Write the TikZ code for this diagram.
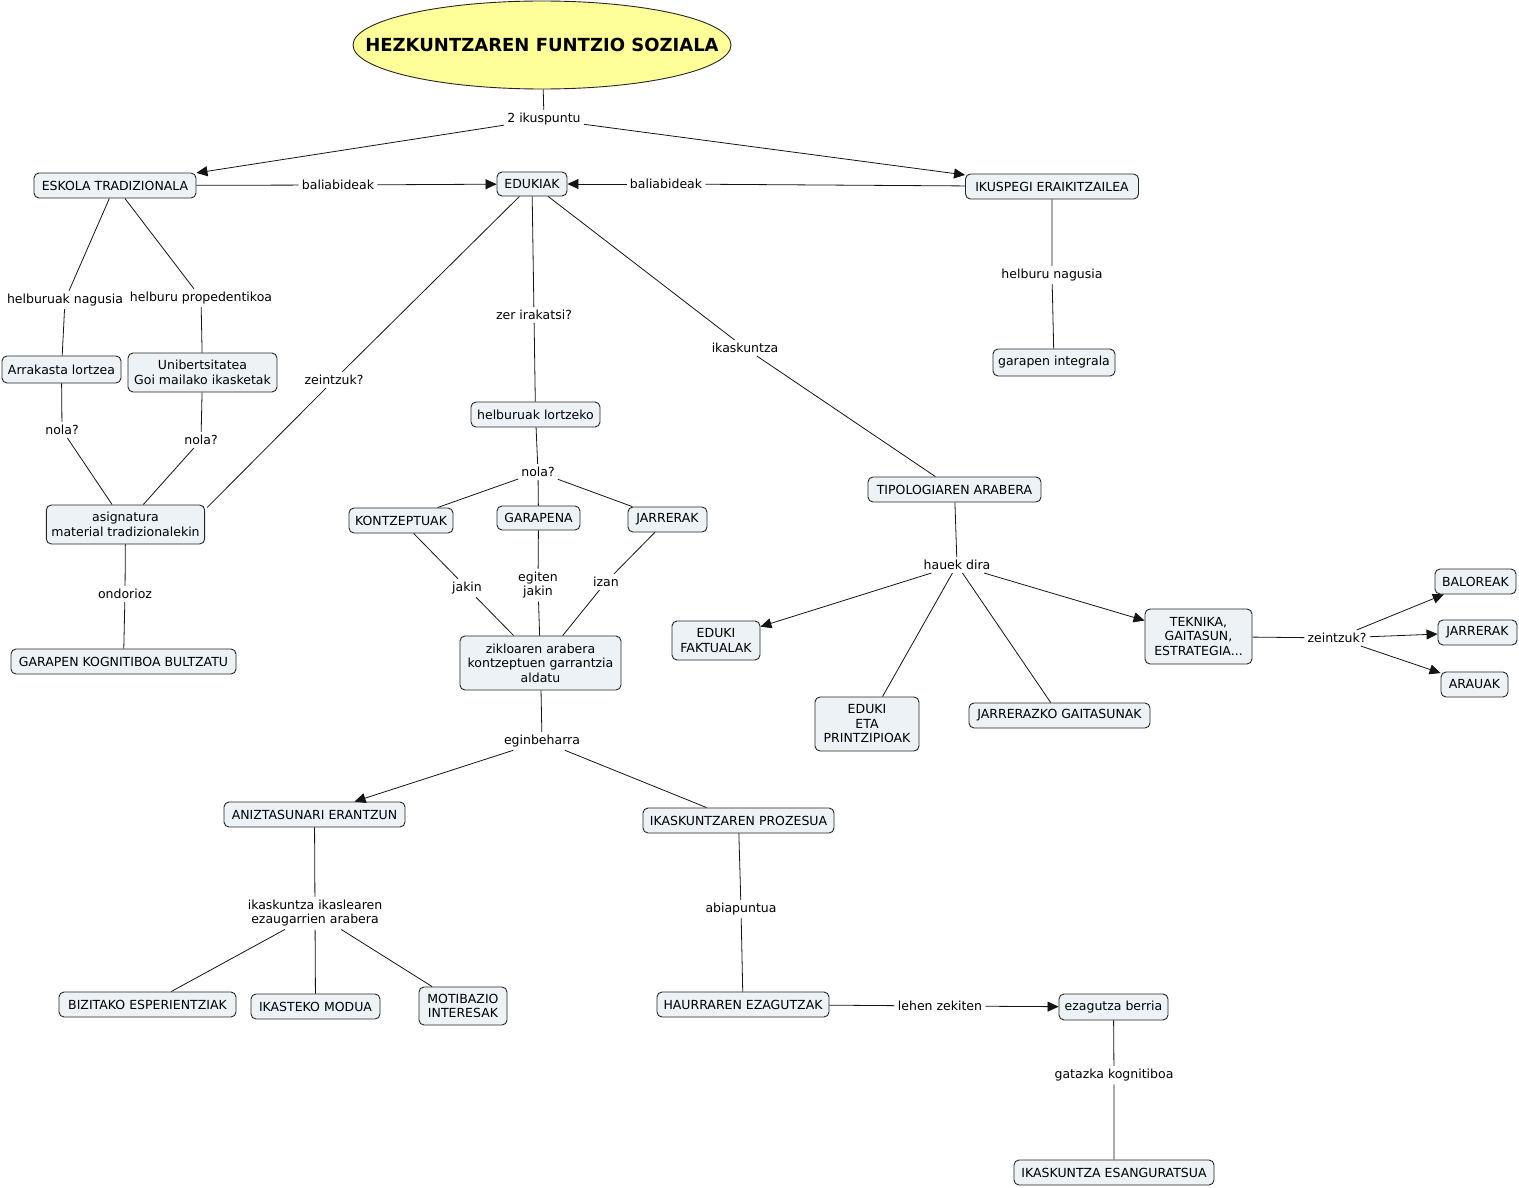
\documentclass[tikz,border=0pt]{standalone}
\usepackage{fontspec}
\setmainfont{DejaVu Sans}
\usepackage{tikz}
\usetikzlibrary{
  shapes.geometric,
  arrows.meta
}
\definecolor{conceptfill}{RGB}{236,242,245}
\definecolor{titlefill}{RGB}{255,255,153}
\definecolor{cmline}{RGB}{20,20,20}
\newcommand{\cmfont}{\fontsize{12.5}{14.5}\selectfont}
\tikzset{
  basebox/.style={rectangle,rounded corners=5pt,draw=black!85,fill=conceptfill,align=center,font=\cmfont,line width=0.9pt,inner xsep=5pt,inner ysep=3pt},
  conceptnode/.style={basebox,minimum height=25pt},
  titlenode/.style={ellipse,draw=black!85,fill=titlefill,line width=0.9pt,minimum width=378pt,minimum height=88pt,font=\fontsize{18}{22}\selectfont\bfseries},
  linknode/.style={rectangle,align=center,font=\cmfont,inner sep=3pt},
  conn/.style={draw=cmline,line width=0.8pt},
  arr/.style={conn,-{Triangle[length=11pt,width=10pt]}}
}

\begin{document}
\begin{tikzpicture}[x=1pt,y=-1pt]
  \useasboundingbox (0,0) rectangle (1519,1188);
  \node[titlenode] (title) at (542,45) {\makebox[0pt]{HEZKUNTZAREN FUNTZIO SOZIALA}};
  \node[conceptnode,minimum width=162pt] (esk) at (115,185.5) {ESKOLA TRADIZIONALA};
  \node[conceptnode,minimum width=70pt,minimum height=24pt] (edu) at (532,184) {EDUKIAK};
  \node[conceptnode,minimum width=173pt] (iku) at (1052,186.5) {IKUSPEGI ERAIKITZAILEA};
  \node[conceptnode,minimum width=122pt,minimum height=27pt] (garint) at (1054,362.5) {garapen integrala};
  \node[conceptnode,minimum width=119pt,minimum height=27pt] (arrak) at (61.5,369.5) {Arrakasta lortzea};
  \node[conceptnode,minimum width=149pt,minimum height=39pt] (unib) at (202.5,372.5) {Unibertsitatea\\Goi mailako ikasketak};
  \node[conceptnode,minimum width=157pt,minimum height=39pt] (asig) at (125.5,524.5) {asignatura\\material tradizionalekin};
  \node[conceptnode,minimum width=225pt] (garkog) at (123.5,661.5) {GARAPEN KOGNITIBOA BULTZATU};
  \node[conceptnode,minimum width=129pt] (helb) at (535.5,414.5) {helburuak lortzeko};
  \node[conceptnode,minimum width=104pt] (kontz) at (401,520.5) {KONTZEPTUAK};
  \node[conceptnode,minimum width=83pt,minimum height=24pt] (garap) at (538.5,518) {GARAPENA};
  \node[conceptnode,minimum width=79pt] (jarr) at (667.5,519.5) {JARRERAK};
  \node[conceptnode,minimum width=161pt,minimum height=54pt] (ziklo) at (540.5,663) {zikloaren arabera\\kontzeptuen garrantzia\\aldatu};
  \node[conceptnode,minimum width=181pt] (anizt) at (314.5,814.5) {ANIZTASUNARI ERANTZUN};
  \node[conceptnode,minimum width=191pt] (ikproz) at (738.5,820.5) {IKASKUNTZAREN PROZESUA};
  \node[conceptnode,minimum width=177pt] (bizi) at (147.5,1004.5) {BIZITAKO ESPERIENTZIAK};
  \node[conceptnode,minimum width=129pt] (ikmodu) at (315.5,1006.5) {IKASTEKO MODUA};
  \node[conceptnode,minimum width=88pt,minimum height=38pt] (motib) at (463,1006) {MOTIBAZIO\\INTERESAK};
  \node[conceptnode,minimum width=172pt] (haur) at (743,1004.5) {HAURRAREN EZAGUTZAK};
  \node[conceptnode,minimum width=109pt,minimum height=26pt] (ezber) at (1113.5,1007) {ezagutza berria};
  \node[conceptnode,minimum width=200pt] (ikesang) at (1114,1172.5) {IKASKUNTZA ESANGURATSUA};
  \node[conceptnode,minimum width=173pt] (tipo) at (954.5,489.5) {TIPOLOGIAREN ARABERA};
  \node[conceptnode,minimum width=88pt,minimum height=39pt] (efakt) at (716,640.5) {EDUKI\\FAKTUALAK};
  \node[conceptnode,minimum width=104pt,minimum height=54pt] (eeta) at (867,724) {EDUKI\\ETA\\PRINTZIPIOAK};
  \node[conceptnode,minimum width=181pt] (jgait) at (1059.5,715.5) {JARRERAZKO GAITASUNAK};
  \node[conceptnode,minimum width=107pt,minimum height=55pt] (tekn) at (1198.5,636.5) {TEKNIKA,\\GAITASUN,\\ESTRATEGIA...};
  \node[conceptnode,minimum width=81pt] (balo) at (1475.5,581.5) {BALOREAK};
  \node[conceptnode,minimum width=79pt] (jarrb) at (1477.5,632.5) {JARRERAK};
  \node[conceptnode,minimum width=67pt] (arau) at (1474.5,684.5) {ARAUAK};

  \node[linknode] (l2iku) at (544,119) {2 ikuspuntu};
  \node[linknode] (lbal1) at (338,185) {baliabideak};
  \node[linknode] (lbal2) at (666,184) {baliabideak};
  \node[linknode] (lhnag) at (65,300) {helburuak nagusia};
  \node[linknode] (lhprop) at (201,298) {helburu propedentikoa};
  \node[linknode] (lnola1) at (62,430) {nola?};
  \node[linknode] (lnola2) at (201,440) {nola?};
  \node[linknode] (lzein1) at (334,380) {zeintzuk?};
  \node[linknode] (lzer) at (534,315) {zer irakatsi?};
  \node[linknode] (likask) at (745,348) {ikaskuntza};
  \node[linknode] (lhnag2) at (1052,275) {helburu nagusia};
  \node[linknode] (lnola3) at (538,472) {nola?};
  \node[linknode] (ljakin) at (467,588) {jakin};
  \node[linknode] (legiten) at (538,585) {egiten\\jakin};
  \node[linknode] (lizan) at (606,582) {izan};
  \node[linknode] (londo) at (125,594) {ondorioz};
  \node[linknode] (legin) at (542,741) {eginbeharra};
  \node[linknode] (likikas) at (315,913) {ikaskuntza ikaslearen\\ezaugarrien arabera};
  \node[linknode] (labia) at (741,909) {abiapuntua};
  \node[linknode] (llehen) at (940,1006) {lehen zekiten};
  \node[linknode] (lgataz) at (1114,1075) {gatazka kognitiboa};
  \node[linknode] (lhauek) at (957,565) {hauek dira};
  \node[linknode] (lzein2) at (1337,638) {zeintzuk?};

  \draw[conn] (title) -- (l2iku);
  \draw[arr] (l2iku) -- (esk);
  \draw[arr] (l2iku) -- (iku);
  \draw[conn] (esk) -- (lbal1);
  \draw[arr] (lbal1) -- (edu);
  \draw[conn] (iku) -- (lbal2);
  \draw[arr] (lbal2) -- (edu);
  \draw[conn] (iku) -- (lhnag2) -- (garint);
  \draw[conn] (esk) -- (lhnag) -- (arrak);
  \draw[conn] (esk) -- (lhprop) -- (unib);
  \draw[conn] (arrak) -- (lnola1) -- (asig);
  \draw[conn] (unib) -- (lnola2) -- (asig);
  \draw[conn] (edu) -- (lzein1) -- ([xshift=2pt,yshift=-3pt]asig.north east);
  \draw[conn] (asig) -- (londo) -- (garkog);
  \draw[conn] (edu) -- (lzer) -- (helb);
  \draw[conn] (edu) -- (likask) -- (tipo);
  \draw[conn] (helb) -- (lnola3);
  \draw[conn] (lnola3) -- (kontz);
  \draw[conn] (lnola3) -- (garap);
  \draw[conn] (lnola3) -- (jarr);
  \draw[conn] (kontz) -- (ljakin) -- (ziklo);
  \draw[conn] (garap) -- (legiten) -- (ziklo);
  \draw[conn] (jarr) -- (lizan) -- (ziklo);
  \draw[conn] (ziklo) -- (legin);
  \draw[arr] (legin) -- (anizt);
  \draw[conn] (legin) -- (ikproz);
  \draw[conn] (anizt) -- (likikas);
  \draw[conn] (likikas) -- (bizi);
  \draw[conn] (likikas) -- (ikmodu);
  \draw[conn] (likikas) -- (motib);
  \draw[conn] (ikproz) -- (labia) -- (haur);
  \draw[conn] (haur) -- (llehen);
  \draw[arr] (llehen) -- (ezber);
  \draw[conn] (ezber) -- (lgataz) -- (ikesang);
  \draw[conn] (tipo) -- (lhauek);
  \draw[arr] (lhauek) -- (efakt);
  \draw[conn] (lhauek) -- (eeta);
  \draw[conn] (lhauek) -- (jgait);
  \draw[arr] (lhauek) -- (tekn);
  \draw[conn] (tekn) -- (lzein2);
  \draw[arr] (lzein2) -- (balo);
  \draw[arr] (lzein2) -- (jarrb);
  \draw[arr] (lzein2) -- (arau);
\end{tikzpicture}
\end{document}
